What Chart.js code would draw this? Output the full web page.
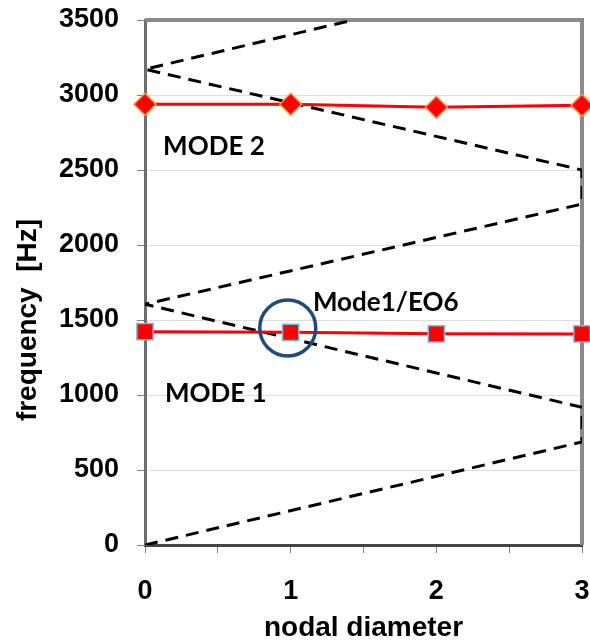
<!DOCTYPE html>
<html>
<head>
<meta charset="utf-8">
<script src="https://cdn.jsdelivr.net/npm/chart.js@4/dist/chart.umd.min.js"></script>
<style>
  html, body { margin: 0; padding: 0; background: #ffffff; }
  #wrap { width: 590px; height: 643px; }
</style>
</head>
<body>
<div id="wrap"><canvas id="chart" width="590" height="643"></canvas></div>
<script>
// Nodal diameters of the computed modes
const nodalDiameters = [0, 1, 2, 3];
// Natural frequencies [Hz]
const mode1Freq = [1422, 1418, 1408, 1407];
const mode2Freq = [2938, 2938, 2918, 2931];
// Engine-order zigzag (nodal diameter, frequency) vertices
const eoND   = [0, 3, 3, 0, 3, 3, 0, 1.43];
const eoFreq = [0, 687, 918, 1605, 2273, 2500, 3172, 3500];
// Highlighted crossing Mode1 / EO6
const crossingND = [0.98];
const crossingFreq = [1447];
// Axis ticks
const freqTicks = [0, 500, 1000, 1500, 2000, 2500, 3000, 3500];
const ndTickLabels = ['0', '1', '2', '3'];
// In-plot labels (anchored in data coordinates: left edge, baseline)
const plotLabelText = ['MODE 2', 'MODE 1', 'Mode1/EO6'];
const plotLabelND   = [0.124, 0.137, 1.153];
const plotLabelFreq = [2600, 953, 1560];

const toPoints = (xs, ys) => xs.map((x, i) => ({ x: x, y: ys[i] }));

const tickFont = { family: '"Liberation Sans", Arial, sans-serif', size: 27, weight: 'bold' };

const framePlugin = {
  id: 'frame',
  beforeDatasetsDraw(chart) {
    const { ctx, chartArea: a } = chart;
    ctx.save();
    ctx.strokeStyle = '#8a8a8a';
    ctx.lineWidth = 4;
    ctx.beginPath();
    ctx.moveTo(a.left, a.top);
    ctx.lineTo(a.right, a.top);
    ctx.lineTo(a.right, a.bottom);
    ctx.stroke();
    ctx.restore();
  }
};

const textPlugin = {
  id: 'texts',
  afterDatasetsDraw(chart) {
    const { ctx, scales, chartArea: a } = chart;
    ctx.save();
    ctx.fillStyle = '#000000';
    ctx.font = 'bold 26px Lato, "Open Sans", sans-serif';
    ctx.textAlign = 'left';
    ctx.textBaseline = 'alphabetic';
    plotLabelText.forEach((t, i) => {
      ctx.fillText(t, scales.x.getPixelForValue(plotLabelND[i]), scales.y.getPixelForValue(plotLabelFreq[i]));
    });
    // axis titles
    ctx.font = 'bold 28px "Liberation Sans", Arial, sans-serif';
    ctx.textAlign = 'center';
    ctx.textBaseline = 'middle';
    ctx.fillText('nodal diameter', (a.left + a.right) / 2, 628);
    ctx.translate(28, 320);
    ctx.rotate(-Math.PI / 2);
    ctx.fillText('frequency  [Hz]', 0, 0);
    ctx.restore();
  }
};

new Chart(document.getElementById('chart'), {
  type: 'scatter',
  data: {
    datasets: [
      {
        label: 'crossing',
        data: toPoints(crossingND, crossingFreq),
        showLine: false,
        pointStyle: 'circle',
        pointRadius: 28,
        pointBackgroundColor: 'rgba(0,0,0,0)',
        pointBorderColor: '#1f4a7c',
        pointBorderWidth: 3.5,
        clip: false,
        order: 0
      },
      {
        label: 'MODE 2',
        data: toPoints(nodalDiameters, mode2Freq),
        showLine: true,
        borderColor: '#ff0000',
        borderWidth: 3,
        pointStyle: 'rectRot',
        pointRadius: 11,
        pointBackgroundColor: '#ff0000',
        pointBorderColor: '#f79646',
        pointBorderWidth: 1.5,
        clip: false,
        order: 1
      },
      {
        label: 'MODE 1',
        data: toPoints(nodalDiameters, mode1Freq),
        showLine: true,
        borderColor: '#ff0000',
        borderWidth: 3,
        pointStyle: 'rect',
        pointRadius: 11.5,
        pointBackgroundColor: '#ff0000',
        pointBorderColor: '#6fc3d8',
        pointBorderWidth: 1.5,
        clip: false,
        order: 2
      },
      {
        label: 'EO',
        data: toPoints(eoND, eoFreq),
        showLine: true,
        borderColor: '#000000',
        borderWidth: 3,
        borderDash: [13, 8],
        pointRadius: 0,
        tension: 0,
        order: 3
      }
    ]
  },
  options: {
    responsive: false,
    animation: false,
    devicePixelRatio: 1,
    layout: { autoPadding: false, padding: { left: 0, right: 8, top: 20, bottom: 0 } },
    plugins: {
      legend: { display: false },
      tooltip: { enabled: false }
    },
    scales: {
      x: {
        type: 'linear',
        min: 0,
        max: 3,
        afterBuildTicks(scale) {
          const t = [];
          for (let v = 0; v <= 3.0001; v += 0.5) t.push({ value: v });
          scale.ticks = t;
        },
        afterFit(scale) {
          scale.height = 98;
          scale.paddingLeft = 0;
          scale.paddingRight = 0;
        },
        ticks: {
          autoSkip: false,
          maxRotation: 0,
          padding: 22,
          color: '#000000',
          font: tickFont,
          callback: (v) => (Number.isInteger(v) ? ndTickLabels[v] : '')
        },
        grid: {
          drawOnChartArea: false,
          drawTicks: true,
          tickLength: 8,
          tickColor: '#808080'
        },
        border: { display: true, color: '#454545', width: 3 },
        title: { display: false }
      },
      y: {
        min: 0,
        max: 3500,
        afterBuildTicks(scale) {
          scale.ticks = freqTicks.map(v => ({ value: v }));
        },
        afterFit(scale) {
          scale.width = 145;
          scale.paddingTop = 0;
          scale.paddingBottom = 0;
        },
        ticks: {
          padding: 18,
          color: '#000000',
          font: tickFont,
          callback: (v) => String(v)
        },
        grid: {
          color: '#dedede',
          lineWidth: 1,
          tickLength: 8,
          tickColor: '#808080'
        },
        border: { display: true, color: '#6e6e6e', width: 3 }
      }
    }
  },
  plugins: [framePlugin, textPlugin]
});
</script>
</body>
</html>
